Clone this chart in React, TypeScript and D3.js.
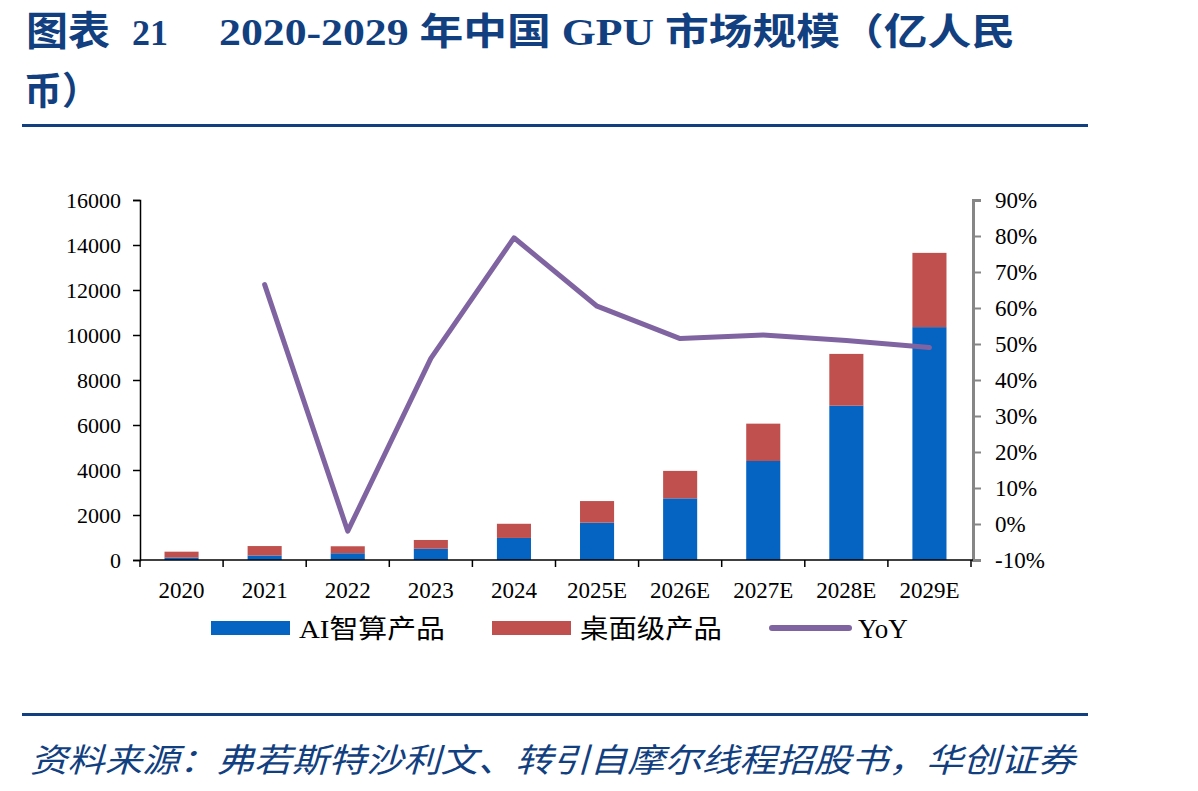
import * as d3 from 'd3'
import { useEffect, useRef } from 'react'

// 2020-2029 China GPU market size, 100M RMB
const years = ['2020', '2021', '2022', '2023', '2024', '2025E', '2026E', '2027E', '2028E', '2029E']
const aiCompute = [110, 200, 300, 500, 980, 1660, 2740, 4400, 6860, 10350]
const desktop = [260, 420, 310, 390, 630, 960, 1220, 1660, 2300, 3300]
const yoy: (number | null)[] = [null, 66.5, -2.0, 46.0, 79.5, 60.5, 51.5, 52.5, 51.0, 49.0]
const leftTicks = [0, 2000, 4000, 6000, 8000, 10000, 12000, 14000, 16000]
const rightTicks = [-10, 0, 10, 20, 30, 40, 50, 60, 70, 80, 90]
const legendItems = ['AI智算产品', '桌面级产品', 'YoY']

const BLUE = '#0563c1'
const RED = '#c0504d'
const PURPLE = '#8064a2'
const NAVY = '#123f7f'
const SERIF = '"Liberation Serif", "Times New Roman", "Noto Sans CJK SC", serif'
const CJK = '"Liberation Serif", "Noto Sans CJK SC", serif'

export default function App() {
  const ref = useRef<SVGSVGElement>(null)

  useEffect(() => {
    const svg = d3.select(ref.current)
    svg.selectAll('*').remove()

    const left = 140, right = 971, top = 200, bottom = 560

    // Title
    const title = (x: number, y: number, t: string, size: number, len?: number) => {
      const el = svg.append('text')
        .attr('x', x).attr('y', y)
        .attr('font-family', CJK).attr('font-size', size).attr('font-weight', 'bold')
        .attr('fill', NAVY)
        .text(t)
      if (len) el.attr('textLength', len).attr('lengthAdjust', 'spacingAndGlyphs')
    }
    title(26, 45, '图表', 40, 84)
    title(132, 45, '21', 36)
    title(219, 45, '2020-2029 年中国 GPU 市场规模（亿人民', 37, 796)
    title(24, 104, '币）', 38)
    svg.append('rect').attr('x', 22).attr('y', 124).attr('width', 1066).attr('height', 3).attr('fill', NAVY)

    // Scales
    const x = d3.scaleBand<string>().domain(years).range([left, right]).paddingInner(0.59).paddingOuter(0.295)
    const y = d3.scaleLinear().domain([0, 16000]).range([bottom, top])
    const y2 = d3.scaleLinear().domain([-10, 90]).range([bottom, top])

    // Stacked bars
    const rows = years.map((yr, i) => ({ year: yr, ai: aiCompute[i], desktop: desktop[i] }))
    const stack = d3.stack<any>().keys(['ai', 'desktop'])(rows)
    const colors = [BLUE, RED]
    stack.forEach((layer, k) => {
      svg.append('g').selectAll('rect')
        .data(layer)
        .enter().append('rect')
        .attr('x', d => x(d.data.year)!)
        .attr('width', x.bandwidth())
        .attr('y', d => y(d[1]))
        .attr('height', d => y(d[0]) - y(d[1]))
        .attr('fill', colors[k])
    })

    // Left axis
    const gl = svg.append('g').attr('transform', `translate(${left},0)`)
    gl.call(d3.axisLeft(y).tickValues(leftTicks).tickSize(7).tickPadding(12).tickFormat(d => String(d)))
    gl.select('.domain').attr('stroke', '#000').attr('stroke-width', 1.5)
    gl.selectAll('.tick line').attr('stroke', '#000').attr('stroke-width', 1.5)
    gl.selectAll('.tick text').attr('font-family', SERIF).attr('font-size', 22).attr('fill', '#000')

    // Right axis
    const gr = svg.append('g').attr('transform', `translate(${right + 2},0)`)
    gr.call(d3.axisRight(y2).tickValues(rightTicks).tickSize(8).tickPadding(14).tickFormat(d => `${d}%`))
    gr.select('.domain').attr('stroke', '#868686').attr('stroke-width', 3)
    gr.selectAll('.tick line').attr('stroke', '#868686').attr('stroke-width', 2)
    gr.selectAll('.tick text').attr('font-family', SERIF).attr('font-size', 23).attr('fill', '#000')

    // Category axis
    svg.append('line')
      .attr('x1', left).attr('x2', right + 2).attr('y1', bottom).attr('y2', bottom)
      .attr('stroke', '#000').attr('stroke-width', 1.5)
    const step = x.step()
    svg.append('g').selectAll('line')
      .data(d3.range(years.length + 1))
      .enter().append('line')
      .attr('x1', i => left + i * step).attr('x2', i => left + i * step)
      .attr('y1', bottom).attr('y2', bottom + 7)
      .attr('stroke', '#000').attr('stroke-width', 1.5)
    svg.append('g').selectAll('text')
      .data(years)
      .enter().append('text')
      .attr('x', d => x(d)! + x.bandwidth() / 2)
      .attr('y', 598)
      .attr('text-anchor', 'middle')
      .attr('font-family', SERIF).attr('font-size', 23)
      .text(d => d)

    // YoY line
    const line = d3.line<number | null>()
      .defined(d => d !== null)
      .x((_, i) => x(years[i])! + x.bandwidth() / 2)
      .y(d => y2(d as number))
    svg.append('path')
      .datum(yoy)
      .attr('d', line)
      .attr('fill', 'none')
      .attr('stroke', PURPLE)
      .attr('stroke-width', 5)
      .attr('stroke-linecap', 'round')
      .attr('stroke-linejoin', 'round')

    // Legend
    const lg = svg.append('g')
    const lx = [211, 492, 770]
    const lw = [146, 142, 0]
    lg.append('rect').attr('x', lx[0]).attr('y', 621).attr('width', 79).attr('height', 14).attr('fill', BLUE)
    lg.append('rect').attr('x', lx[1]).attr('y', 621).attr('width', 79).attr('height', 14).attr('fill', RED)
    lg.append('line').attr('x1', lx[2] + 2).attr('x2', lx[2] + 79).attr('y1', 628).attr('y2', 628)
      .attr('stroke', PURPLE).attr('stroke-width', 6).attr('stroke-linecap', 'round')
    legendItems.forEach((t, i) => {
      const el = lg.append('text')
        .attr('x', lx[i] + 88).attr('y', 638)
        .attr('font-family', CJK).attr('font-size', i === 2 ? 27 : 26)
        .text(t)
      if (lw[i]) el.attr('textLength', lw[i]).attr('lengthAdjust', 'spacingAndGlyphs')
    })

    // Source
    svg.append('rect').attr('x', 22).attr('y', 713).attr('width', 1066).attr('height', 3).attr('fill', NAVY)
    svg.append('text')
      .attr('x', 30).attr('y', 772)
      .attr('font-family', '"Noto Sans CJK SC", sans-serif').attr('font-size', 33)
      .attr('font-style', 'italic')
      .attr('fill', NAVY)
      .attr('textLength', 1045).attr('lengthAdjust', 'spacingAndGlyphs')
      .text('资料来源：弗若斯特沙利文、转引自摩尔线程招股书，华创证券')
  }, [])

  return (
    <svg
      ref={ref}
      width={1198}
      height={791}
      style={{ position: 'absolute', left: 0, top: 0, background: '#fff' }}
    />
  )
}
